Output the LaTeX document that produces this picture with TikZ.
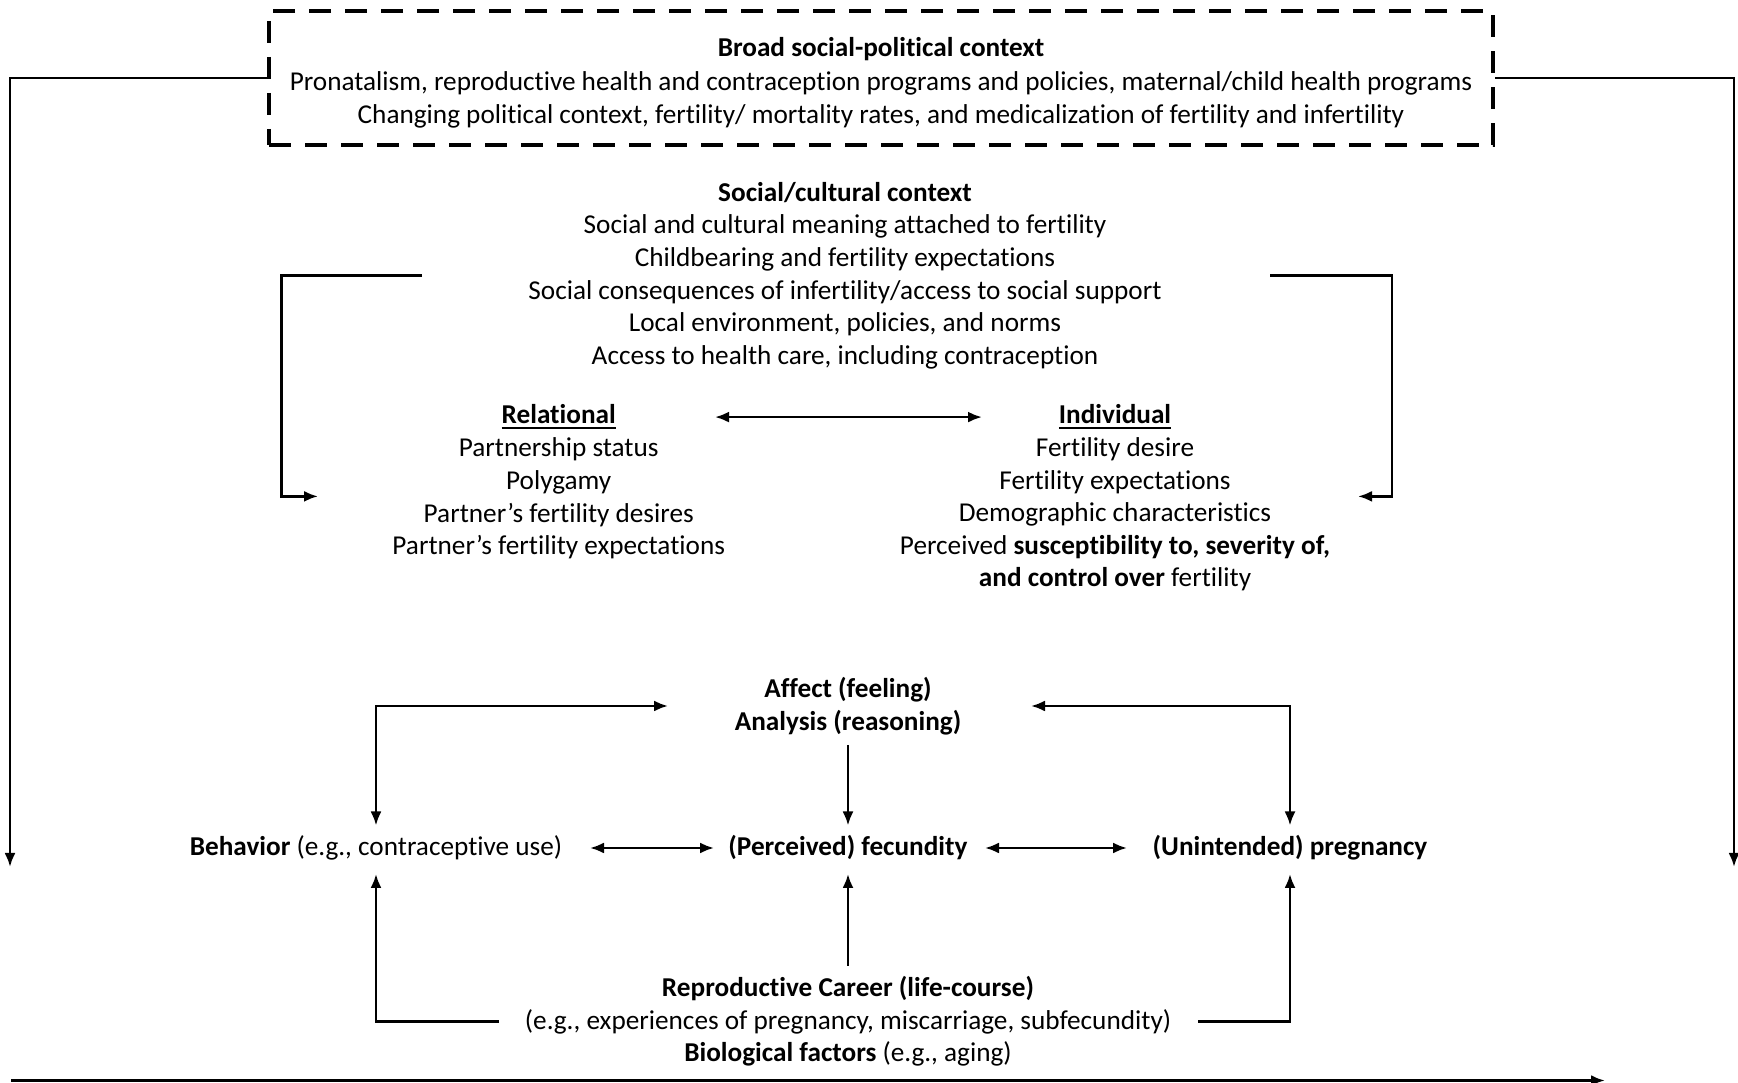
\documentclass[tikz,border=0pt]{standalone}
\usepackage{fontspec}
\setmainfont{Carlito}[Ligatures=NoCommon]
\usetikzlibrary{positioning,arrows.meta}
\newlength{\basisa}
\setlength{\basisa}{1cm}
\tikzset{
	>={Latex[length=1.4mm,width=1.1mm]},
	textblock/.style={align=center, inner sep=0pt, font=\fontsize{7.75}{9.28}\selectfont},
	contextbox/.style={textblock, font=\fontsize{7.75}{9.5}\selectfont, draw, line width=0.04\basisa, dash pattern=on 0.22\basisa off 0.14\basisa, minimum width=12.24\basisa, minimum height=1.34\basisa},
	connector/.style={line width=0.025\basisa},
}

\begin{document}
\begin{tikzpicture}
    \useasboundingbox (0,0) rectangle (17.38\basisa,10.83\basisa);

    % context box with the outer feedback lines
    \draw (8.81\basisa,10.05\basisa) 
		node[contextbox] 
			(Broad) {\rule{0pt}{8.3pt}\textbf{Broad social-political context}\\Pronatalism, reproductive health and contraception programs and policies, maternal/child health programs\\Changing political context, fertility/ mortality rates, and medicalization of fertility and infertility};

    \draw (8.45\basisa,8.075\basisa) 
		node[textblock] 
			(Social) {\textbf{Social/cultural context}\\Social and cultural meaning attached to fertility\\Childbearing and fertility expectations\\Social consequences of infertility/access to social support\\Local environment, policies, and norms\\Access to health care, including contraception};

    \draw (5.587\basisa,6.659\basisa) 
		node[textblock] 
			(RelHead) {\underline{\textbf{Relational}}};
    \draw (5.587\basisa,5.845\basisa) 
		node[textblock] 
			(RelBody) {Partnership status\\Polygamy\\Partner’s fertility desires\\Partner’s fertility expectations};

    \draw (11.15\basisa,6.659\basisa) 
		node[textblock] 
			(IndHead) {\underline{\textbf{Individual}}};
    \draw (11.15\basisa,5.685\basisa) 
		node[textblock] 
			(IndBody) {Fertility desire\\Fertility expectations\\Demographic characteristics\\Perceived \textbf{susceptibility to, severity of,}\\\textbf{and control over} fertility};

    % middle row
    \draw (8.48\basisa,3.77\basisa) 
		node[textblock] 
			(Affect) {\textbf{Affect (feeling)}\\\textbf{Analysis (reasoning)}};

    \draw (3.76\basisa,2.35\basisa) 
		node[textblock] 
			(Behavior) {\textbf{Behavior} (e.g., contraceptive use)};
    \draw (8.48\basisa,2.35\basisa) 
		node[textblock] 
			(Fecundity) {\textbf{(Perceived) fecundity}};
    \draw (12.90\basisa,2.35\basisa) 
		node[textblock] 
			(Pregnancy) {\textbf{(Unintended) pregnancy}};

    \draw (8.48\basisa,0.615\basisa) 
		node[textblock] 
			(Repro) {\textbf{Reproductive Career (life-course)}\\(e.g., experiences of pregnancy, miscarriage, subfecundity)\\\textbf{Biological factors} (e.g., aging)};

    \coordinate (LeftEnd) at (0.10\basisa,2.16\basisa);
    \coordinate (RightEnd) at (17.34\basisa,2.16\basisa);
    \coordinate (RelIn) at (3.18\basisa,5.866\basisa);
    \coordinate (IndIn) at (13.58\basisa,5.866\basisa);
    \coordinate (TimeStart) at (0.11\basisa,0.025\basisa);
    \coordinate (TimeEnd) at (16.05\basisa,0.025\basisa);

	\draw[->, connector] (Broad.west) -| (LeftEnd);
	\draw[->, connector] (Broad.east) -| (RightEnd);
	\draw[->, connector, line width=0.035\basisa] (TimeStart) -- (TimeEnd);
	\draw[->, connector, shorten <=4.23\basisa] (Social.center) -- ++(-5.634\basisa,0) |- (RelIn);
	\draw[->, connector, shorten <=4.25\basisa] (Social.center) -- ++(5.47\basisa,0) |- (IndIn);
	\draw[<->, connector, shorten <=1.563\basisa, shorten >=1.33\basisa] (RelHead.center) -- (IndHead.center);
	\draw[<->, connector, shorten <=1.80\basisa, shorten >=0.225\basisa] (Affect.center) -| (Behavior.center);
	\draw[<->, connector, shorten <=1.83\basisa, shorten >=0.225\basisa] (Affect.center) -| (Pregnancy.center);
	\draw[->, connector, shorten <=0.39\basisa, shorten >=0.225\basisa] (Affect.center) -- (Fecundity.center);
	\draw[<->, connector, shorten <=2.14\basisa, shorten >=1.34\basisa] (Behavior.center) -- (Fecundity.center);
	\draw[<->, connector, shorten <=1.37\basisa, shorten >=1.63\basisa] (Fecundity.center) -- (Pregnancy.center);
	\draw[->, connector, shorten <=0.555\basisa, shorten >=0.26\basisa] (Repro.center) -- (Fecundity.center);
	\draw[->, connector, shorten <=3.49\basisa, shorten >=0.26\basisa] (Repro.center) -| (Behavior.center);
	\draw[->, connector, shorten <=3.50\basisa, shorten >=0.26\basisa] (Repro.center) -| (Pregnancy.center);
\end{tikzpicture}
\end{document}
